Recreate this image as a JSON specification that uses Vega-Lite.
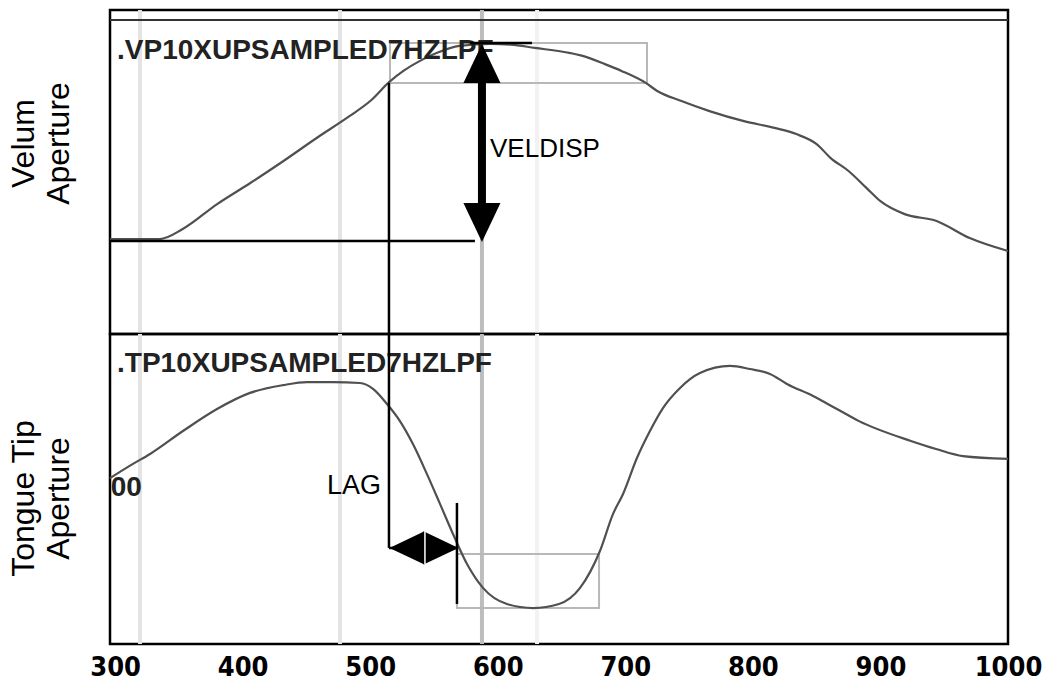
{
  "$schema": "https://vega.github.io/schema/vega-lite/v6.json",
  "background": "white",
  "padding": {"left": 5, "top": 6, "right": 5, "bottom": 5},
  "spacing": 0,
  "bounds": "flush",
  "config": {
    "view": {"stroke": "black", "strokeWidth": 2.5},
    "axis": {"grid": false, "ticks": false, "domain": false},
    "concat": {"spacing": 0}
  },
  "datasets": {
    "velum": [
      {"t": 296, "ap": 29.3}, {"t": 335, "ap": 29.3}, {"t": 353, "ap": 32.4}, {"t": 380, "ap": 40.1},
      {"t": 406, "ap": 46.6}, {"t": 432, "ap": 53.4}, {"t": 458, "ap": 60.5}, {"t": 484, "ap": 67.3},
      {"t": 500, "ap": 71.9}, {"t": 515, "ap": 77.8}, {"t": 526, "ap": 81.2}, {"t": 539, "ap": 84.3},
      {"t": 552, "ap": 86.7}, {"t": 570, "ap": 88.9}, {"t": 594, "ap": 89.5}, {"t": 610, "ap": 89.3},
      {"t": 629, "ap": 88.3}, {"t": 657, "ap": 86.7}, {"t": 665, "ap": 86.0}, {"t": 684, "ap": 83.3},
      {"t": 697, "ap": 81.2}, {"t": 716, "ap": 77.5}, {"t": 725, "ap": 75.0}, {"t": 744, "ap": 71.9},
      {"t": 766, "ap": 68.8}, {"t": 793, "ap": 65.7}, {"t": 817, "ap": 63.6}, {"t": 834, "ap": 61.7},
      {"t": 850, "ap": 58.6}, {"t": 861, "ap": 54.3}, {"t": 875, "ap": 50.3}, {"t": 889, "ap": 45.1},
      {"t": 900, "ap": 41.0}, {"t": 919, "ap": 37.0}, {"t": 944, "ap": 34.9}, {"t": 970, "ap": 29.6},
      {"t": 1000, "ap": 25.6}
    ],
    "tongue": [
      {"t": 296, "ap": 53.5}, {"t": 314, "ap": 58.1}, {"t": 327.4, "ap": 61.3}, {"t": 353.2, "ap": 68.7},
      {"t": 379.9, "ap": 75.8}, {"t": 405.8, "ap": 81.0}, {"t": 431.6, "ap": 83.5}, {"t": 450.4, "ap": 84.5},
      {"t": 470.8, "ap": 84.5}, {"t": 492, "ap": 84.2}, {"t": 502.2, "ap": 82.3}, {"t": 513.2, "ap": 77.4},
      {"t": 523.3, "ap": 71.9}, {"t": 533.5, "ap": 64.5}, {"t": 544.5, "ap": 54.8}, {"t": 554.7, "ap": 45.2},
      {"t": 564.9, "ap": 35.5}, {"t": 575.9, "ap": 25.8}, {"t": 588.4, "ap": 18.1}, {"t": 607.2, "ap": 12.9},
      {"t": 627.6, "ap": 11.6}, {"t": 648, "ap": 12.9}, {"t": 664.5, "ap": 18.1}, {"t": 680.1, "ap": 30.0},
      {"t": 690.3, "ap": 41.9}, {"t": 698.2, "ap": 48.4}, {"t": 709.1, "ap": 60.0}, {"t": 719.3, "ap": 68.7},
      {"t": 729.5, "ap": 76.1}, {"t": 742.9, "ap": 82.6}, {"t": 758.5, "ap": 87.4}, {"t": 782.1, "ap": 89.7},
      {"t": 797.7, "ap": 88.7}, {"t": 813.4, "ap": 87.1}, {"t": 826.7, "ap": 83.9}, {"t": 847.1, "ap": 80.0},
      {"t": 865.9, "ap": 75.8}, {"t": 883.2, "ap": 71.9}, {"t": 923.9, "ap": 65.5}, {"t": 943.6, "ap": 62.9},
      {"t": 964.7, "ap": 60.6}, {"t": 1000, "ap": 59.7}
    ],
    "bands": [
      {"t": 319.5, "tone": "light"}, {"t": 476.3, "tone": "light"},
      {"t": 587.6, "tone": "mid"}, {"t": 630.8, "tone": "faint"}
    ],
    "topLine": [{"ap": 96.9}],
    "topSegs": [
      {"t": 296, "t2": 582.1, "ap": 28.7, "ap2": 28.7},
      {"t": 578.2, "t2": 626.8, "ap": 89.8, "ap2": 89.8},
      {"t": 514.7, "t2": 514.7, "ap": 77.5, "ap2": 0}
    ],
    "topShaft": [{"t": 587.6, "t2": 587.6, "ap": 80, "ap2": 37}],
    "topHeads": [{"t": 587.6, "ap": 83.5, "dir": "up"}, {"t": 587.6, "ap": 34.4, "dir": "down"}],
    "topBox": [{"t": 515.5, "t2": 717.0, "ap": 89.8, "ap2": 77.5}],
    "topLabel": [{"t": 301.5, "ap": 87.3, "text": ".VP10XUPSAMPLED7HZLPF"}],
    "topNote": [{"t": 593.9, "ap": 57.1, "text": "VELDISP"}],
    "botSegs": [
      {"t": 514.7, "t2": 514.7, "ap": 100, "ap2": 31.0},
      {"t": 568.0, "t2": 568.0, "ap": 45.5, "ap2": 12.9},
      {"t": 514.7, "t2": 568.0, "ap": 31.0, "ap2": 31.0}
    ],
    "botHeads": [{"t": 528.8, "ap": 31.0, "dir": "left"}, {"t": 555.5, "ap": 31.0, "dir": "right"}],
    "botSplit": [{"t": 542.9, "ap": 36.5, "ap2": 25.8}],
    "botBox": [{"t": 568.0, "t2": 679.4, "ap": 29.0, "ap2": 11.6}],
    "botLabel": [
      {"t": 301.5, "ap": 90.3, "text": ".TP10XUPSAMPLED7HZLPF"},
      {"t": 296.5, "ap": 50.3, "text": "00"}
    ],
    "botNote": [{"t": 466.1, "ap": 51.0, "text": "LAG"}]
  },
  "vconcat": [
    {
      "width": 898,
      "height": 324,
      "layer": [
        {
          "data": {"name": "bands"},
          "mark": {"type": "rule", "strokeWidth": 4},
          "encoding": {
            "x": {"field": "t", "type": "quantitative", "scale": {"domain": [296, 1000], "nice": false, "zero": false}, "axis": null},
            "color": {"field": "tone", "type": "nominal", "scale": {"domain": ["light", "mid", "faint"], "range": ["#e4e4e4", "#bdbdbd", "#f2f2f2"]}, "legend": null}
          }
        },
        {
          "data": {"name": "topLine"},
          "mark": {"type": "rule", "strokeWidth": 2, "color": "#333333"},
          "encoding": {
            "y": {
              "field": "ap", "type": "quantitative", "scale": {"domain": [0, 100], "nice": false, "zero": false},
              "axis": {
                "title": ["Velum", "Aperture"], "labels": false, "ticks": false, "domain": false, "grid": false,
                "titleFont": "Liberation Sans", "titleFontSize": 32, "titleFontWeight": "normal",
                "titleColor": "black", "titleLineHeight": 35, "titleBaseline": "bottom",
                "titleX": -70, "titleY": 133
              }
            }
          }
        },
        {
          "data": {"name": "topBox"},
          "mark": {"type": "rect", "filled": false, "color": "#b8b8b8", "strokeWidth": 2},
          "encoding": {
            "x": {"field": "t", "type": "quantitative", "axis": null},
            "x2": {"field": "t2"},
            "y": {"field": "ap", "type": "quantitative"},
            "y2": {"field": "ap2"}
          }
        },
        {
          "data": {"name": "velum"},
          "mark": {"type": "line", "color": "#505050", "strokeWidth": 2.2, "interpolate": "monotone"},
          "encoding": {
            "x": {"field": "t", "type": "quantitative", "axis": null},
            "y": {"field": "ap", "type": "quantitative"}
          }
        },
        {
          "data": {"name": "topLabel"},
          "mark": {"type": "text", "align": "left", "baseline": "middle", "font": "Liberation Sans", "fontWeight": "bold", "fontSize": 28, "color": "#222222"},
          "encoding": {
            "x": {"field": "t", "type": "quantitative", "axis": null},
            "y": {"field": "ap", "type": "quantitative"},
            "text": {"field": "text"}
          }
        },
        {
          "data": {"name": "topSegs"},
          "mark": {"type": "rule", "strokeWidth": 2.5, "color": "black"},
          "encoding": {
            "x": {"field": "t", "type": "quantitative", "axis": null},
            "x2": {"field": "t2"},
            "y": {"field": "ap", "type": "quantitative"},
            "y2": {"field": "ap2"}
          }
        },
        {
          "data": {"name": "topShaft"},
          "mark": {"type": "rule", "strokeWidth": 8, "color": "black"},
          "encoding": {
            "x": {"field": "t", "type": "quantitative", "axis": null},
            "y": {"field": "ap", "type": "quantitative"},
            "y2": {"field": "ap2"}
          }
        },
        {
          "data": {"name": "topHeads"},
          "mark": {"type": "point", "filled": true, "size": 1521, "color": "black", "opacity": 1, "strokeWidth": 0},
          "encoding": {
            "x": {"field": "t", "type": "quantitative", "axis": null},
            "y": {"field": "ap", "type": "quantitative"},
            "shape": {
              "field": "dir", "type": "nominal", "legend": null,
              "scale": {"domain": ["up", "down", "left", "right"], "range": ["M0,-1L0.95,1L-0.95,1Z", "M0,1L0.95,-1L-0.95,-1Z", "M-1,0L1,-0.95L1,0.95Z", "M1,0L-1,-0.95L-1,0.95Z"]}
            }
          }
        },
        {
          "data": {"name": "topNote"},
          "mark": {"type": "text", "align": "left", "baseline": "middle", "font": "Liberation Sans", "fontSize": 26, "color": "black"},
          "encoding": {
            "x": {"field": "t", "type": "quantitative", "axis": null},
            "y": {"field": "ap", "type": "quantitative"},
            "text": {"field": "text"}
          }
        }
      ]
    },
    {
      "width": 898,
      "height": 310,
      "layer": [
        {
          "data": {"name": "bands"},
          "mark": {"type": "rule", "strokeWidth": 4},
          "encoding": {
            "x": {
              "field": "t", "type": "quantitative", "scale": {"domain": [296, 1000], "nice": false, "zero": false},
              "axis": {
                "values": [300, 400, 500, 600, 700, 800, 900, 1000], "title": null, "format": "d",
                "labelFont": "Liberation Sans Narrow, DejaVu Sans Condensed, Liberation Sans",
                "labelFontSize": 27, "labelFontWeight": "bold", "labelColor": "black",
                "labelPadding": 10, "labelFlush": false, "labelAlign": "center", "ticks": false, "domain": false, "grid": false
              }
            },
            "color": {"field": "tone", "type": "nominal", "scale": {"domain": ["light", "mid", "faint"], "range": ["#e4e4e4", "#bdbdbd", "#f2f2f2"]}, "legend": null}
          }
        },
        {
          "data": {"name": "botBox"},
          "mark": {"type": "rect", "filled": false, "color": "#b8b8b8", "strokeWidth": 2},
          "encoding": {
            "x": {"field": "t", "type": "quantitative"},
            "x2": {"field": "t2"},
            "y": {
              "field": "ap", "type": "quantitative", "scale": {"domain": [0, 100], "nice": false, "zero": false},
              "axis": {
                "title": ["Tongue Tip", "Aperture"], "labels": false, "ticks": false, "domain": false, "grid": false,
                "titleFont": "Liberation Sans", "titleFontSize": 32, "titleFontWeight": "normal",
                "titleColor": "black", "titleLineHeight": 35, "titleBaseline": "bottom",
                "titleX": -70, "titleY": 164
              }
            },
            "y2": {"field": "ap2"}
          }
        },
        {
          "data": {"name": "tongue"},
          "mark": {"type": "line", "color": "#505050", "strokeWidth": 2.2, "interpolate": "monotone"},
          "encoding": {
            "x": {"field": "t", "type": "quantitative"},
            "y": {"field": "ap", "type": "quantitative"}
          }
        },
        {
          "data": {"name": "botLabel"},
          "mark": {"type": "text", "align": "left", "baseline": "middle", "font": "Liberation Sans", "fontWeight": "bold", "fontSize": 28, "color": "#222222"},
          "encoding": {
            "x": {"field": "t", "type": "quantitative"},
            "y": {"field": "ap", "type": "quantitative"},
            "text": {"field": "text"}
          }
        },
        {
          "data": {"name": "botSegs"},
          "mark": {"type": "rule", "strokeWidth": 2.5, "color": "black"},
          "encoding": {
            "x": {"field": "t", "type": "quantitative"},
            "x2": {"field": "t2"},
            "y": {"field": "ap", "type": "quantitative"},
            "y2": {"field": "ap2"}
          }
        },
        {
          "data": {"name": "botHeads"},
          "mark": {"type": "point", "filled": true, "size": 1225, "color": "black", "opacity": 1, "strokeWidth": 0},
          "encoding": {
            "x": {"field": "t", "type": "quantitative"},
            "y": {"field": "ap", "type": "quantitative"},
            "shape": {
              "field": "dir", "type": "nominal", "legend": null,
              "scale": {"domain": ["up", "down", "left", "right"], "range": ["M0,-1L0.95,1L-0.95,1Z", "M0,1L0.95,-1L-0.95,-1Z", "M-1,0L1,-0.95L1,0.95Z", "M1,0L-1,-0.95L-1,0.95Z"]}
            }
          }
        },
        {
          "data": {"name": "botSplit"},
          "mark": {"type": "rule", "strokeWidth": 1.5, "color": "white"},
          "encoding": {
            "x": {"field": "t", "type": "quantitative"},
            "y": {"field": "ap", "type": "quantitative"},
            "y2": {"field": "ap2"}
          }
        },
        {
          "data": {"name": "botNote"},
          "mark": {"type": "text", "align": "left", "baseline": "middle", "font": "Liberation Sans", "fontSize": 27, "color": "black"},
          "encoding": {
            "x": {"field": "t", "type": "quantitative"},
            "y": {"field": "ap", "type": "quantitative"},
            "text": {"field": "text"}
          }
        }
      ]
    }
  ]
}
